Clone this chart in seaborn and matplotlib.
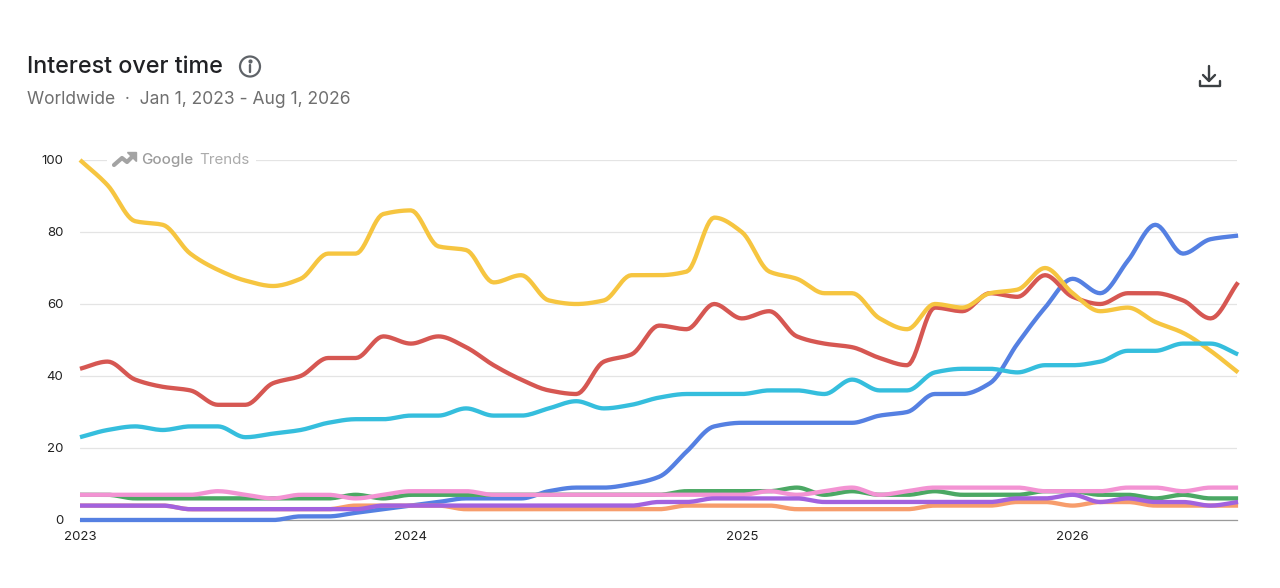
import numpy as np
import pandas as pd
import seaborn as sns
import matplotlib
matplotlib.use("Agg")
import matplotlib.pyplot as plt
from matplotlib.patches import Circle

# monthly values, Jan 2023 onwards
yellow = [100, 93, 83, 82, 74, 69.5, 66.5, 65, 67, 74, 74, 85, 86, 76, 75, 66, 68, 61, 60, 61, 68, 68, 69, 84, 80, 69, 67, 63, 63, 56, 53, 60, 59, 63, 64, 70, 63, 58, 59, 55, 52, 47, 41]
red = [42, 44, 39, 37, 36, 32, 32, 38, 40, 45, 45, 51, 49, 51, 48, 43, 39, 36, 35, 44, 46, 54, 53, 60, 56, 58, 51, 49, 48, 45, 43, 59, 58, 63, 62, 68, 62, 60, 63, 63, 61, 56, 66]
cyan = [23, 25, 26, 25, 26, 26, 23, 24, 25, 27, 28, 28, 29, 29, 31, 29, 29, 31, 33, 31, 32, 34, 35, 35, 35, 36, 36, 35, 39, 36, 36, 41, 42, 42, 41, 43, 43, 44, 47, 47, 49, 49, 46]
blue = [0, 0, 0, 0, 0, 0, 0, 0, 1, 1, 2, 3, 4, 5, 6, 6, 6, 8, 9, 9, 10, 12, 19, 26, 27, 27, 27, 27, 27, 29, 30, 35, 35, 38, 49, 59, 67, 63, 72, 82, 74, 78, 79]
green = [7, 7, 6, 6, 6, 6, 6, 6, 6, 6, 7, 6, 7, 7, 7, 7, 7, 7, 7, 7, 7, 7, 8, 8, 8, 8, 9, 7, 8, 7, 7, 8, 7, 7, 7, 8, 8, 7, 7, 6, 7, 6, 6]
pink = [7, 7, 7, 7, 7, 8, 7, 6, 7, 7, 6, 7, 8, 8, 8, 7, 7, 7, 7, 7, 7, 7, 7, 7, 7, 8, 7, 8, 9, 7, 8, 9, 9, 9, 9, 8, 8, 8, 9, 9, 8, 9, 9]
orange = [4, 4, 4, 4, 3, 3, 3, 3, 3, 3, 4, 4, 4, 4, 3, 3, 3, 3, 3, 3, 3, 3, 4, 4, 4, 4, 3, 3, 3, 3, 3, 4, 4, 4, 5, 5, 4, 5, 5, 4, 4, 4, 4]
purple = [4, 4, 4, 4, 3, 3, 3, 3, 3, 3, 3, 4, 4, 4, 4, 4, 4, 4, 4, 4, 4, 5, 5, 6, 6, 6, 6, 5, 5, 5, 5, 5, 5, 5, 6, 6, 7, 5, 6, 5, 5, 4, 5]

year_labels = ["2023", "2024", "2025", "2026"]
y_ticks = [0, 20, 40, 60, 80, 100]

series = [
    ("blue", blue, "#5580E2"),
    ("red", red, "#D65752"),
    ("yellow", yellow, "#F6C540"),
    ("green", green, "#4BA864"),
    ("cyan", cyan, "#35BEDD"),
    ("orange", orange, "#F79D6C"),
    ("pink", pink, "#F393D3"),
    ("purple", purple, "#A262DE"),
]


# same idea as the monotone curve the original chart draws between its points
def monotone_curve(y, per=12):
    y = np.asarray(y, dtype=float)
    d = np.diff(y)
    m = np.zeros(len(y))
    for i in range(1, len(y) - 1):
        if d[i - 1] * d[i] > 0:
            m[i] = 2 * d[i - 1] * d[i] / (d[i - 1] + d[i])
    m[0], m[-1] = d[0], d[-1]
    xs, ys = [], []
    for i in range(len(d)):
        t = np.linspace(0, 1, per, endpoint=False)
        h00 = 2 * t**3 - 3 * t**2 + 1
        h10 = t**3 - 2 * t**2 + t
        h01 = -2 * t**3 + 3 * t**2
        h11 = t**3 - t**2
        xs.append(i + t)
        ys.append(h00 * y[i] + h10 * m[i] + h01 * y[i + 1] + h11 * m[i + 1])
    return np.append(np.concatenate(xs), len(y) - 1), np.append(np.concatenate(ys), y[-1])


sns.set_style("white")
plt.rcParams["font.family"] = ["Inter", "DejaVu Sans"]

W, H = 1280, 588
fig = plt.figure(figsize=(W / 100, H / 100), dpi=100, facecolor="white")
ax = fig.add_axes([80 / W, 1 - 520 / H, (1237 - 80) / W, 360 / H])

frames = []
for name, vals, col in series:
    cx, cy = monotone_curve(vals)
    frames.append(pd.DataFrame({"month": cx, "value": cy, "term": name}))
df = pd.concat(frames)

ax.set_ylim(0, 100)
ax.set_xlim(0, 41.96)
ax.set_yticks(y_ticks)
ax.grid(axis="y", color="#E4E4E4", lw=0.9)
ax.set_axisbelow(True)

sns.lineplot(data=df, x="month", y="value", hue="term", palette={n: c for n, _, c in series},
             hue_order=[n for n, _, _ in series], lw=3.1, legend=False, ax=ax, clip_on=False,
             solid_capstyle="butt", solid_joinstyle="round", zorder=3)

ax.set_xlabel("")
ax.set_ylabel("")
ax.set_xticks([0, 12, 24, 36])
ax.set_xticklabels(year_labels)
sns.despine(ax=ax, left=True, right=True, top=True)
ax.spines["bottom"].set_color("#9A9A9A")
ax.spines["bottom"].set_linewidth(0.9)
ax.spines["bottom"].set_zorder(1)
ax.tick_params(axis="x", length=5, width=0.9, color="#B0B0B0", labelsize=9.5, labelcolor="#222222", pad=3)
ax.tick_params(axis="y", length=0, labelsize=9.5, labelcolor="#222222", pad=12)

# overlay in pixel coordinates for the header and icons
ov = fig.add_axes([0, 0, 1, 1], zorder=5)
ov.set_xlim(0, W)
ov.set_ylim(H, 0)
ov.axis("off")
ov.patch.set_alpha(0)

ov.text(27, 67, "Interest over time", fontsize=16.8, color="#202124", va="center", ha="left", fontweight="medium")
ov.text(27, 100, "Worldwide  \u00b7  Jan 1, 2023 - Aug 1, 2026", fontsize=12.55, color="#6F6F6F", va="center", ha="left")

# info icon
ov.add_patch(Circle((250, 66.5), 10, fill=False, ec="#5F6368", lw=1.6))
ov.plot([250, 250], [65, 72], color="#5F6368", lw=1.7)
ov.plot([250], [61], "o", color="#5F6368", ms=2)

# download icon
ov.plot([1209, 1209], [66, 81], color="#3C4043", lw=1.7)
ov.plot([1203, 1209, 1215], [75, 81, 75], color="#3C4043", lw=1.7)
ov.plot([1199.5, 1199.5, 1219.5, 1219.5], [81, 85.5, 85.5, 81], color="#3C4043", lw=1.7, solid_joinstyle="round")

# Google Trends mark sits on the top gridline
ov.fill_between([107, 256], 150, 170, color="white", lw=0)
ov.plot([114, 122, 127, 134], [165, 158, 162, 155], color="#A3A3A3", lw=3)
ov.fill([127, 136, 136], [152, 152, 161], color="#A3A3A3")
ov.text(141, 160, "Google", fontsize=10.9, color="#9C9C9C", va="center", ha="left", fontweight="medium")
ov.text(199, 160, "Trends", fontsize=10.9, color="#ABABAB", va="center", ha="left")

fig.savefig("out.png", dpi=100)
